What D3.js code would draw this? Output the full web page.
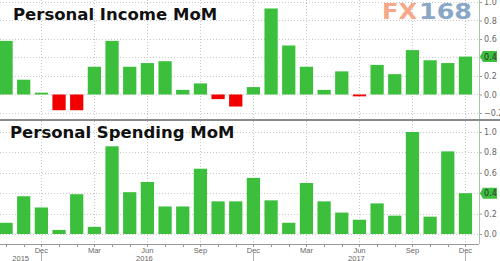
<!DOCTYPE html>
<html>
<head>
<meta charset="utf-8">
<script src="https://cdn.jsdelivr.net/npm/d3@7"></script>
<style>
  body { margin: 0; background: #fff; }
  svg { display: block; }
</style>
</head>
<body>
<div id="chart"></div>
<script>
// Personal Income / Personal Spending MoM, two stacked panels

const width = 500;
const height = 261;
const axisX = 479; // right axis position

// months Oct 2015 .. Dec 2017
const months = [
  "2015-10", "2015-11", "2015-12",
  "2016-01", "2016-02", "2016-03", "2016-04", "2016-05", "2016-06",
  "2016-07", "2016-08", "2016-09", "2016-10", "2016-11", "2016-12",
  "2017-01", "2017-02", "2017-03", "2017-04", "2017-05", "2017-06",
  "2017-07", "2017-08", "2017-09", "2017-10", "2017-11", "2017-12"
];

const incomeMoM = [
  0.58, 0.16, 0.02, -0.17, -0.17, 0.30, 0.58, 0.30, 0.34, 0.36, 0.05, 0.12, -0.05, -0.13,
  0.08, 0.93, 0.53, 0.30, 0.05, 0.25, -0.02, 0.32, 0.22, 0.48, 0.37, 0.34, 0.41
];

const spendingMoM = [
  0.11, 0.37, 0.26, 0.04, 0.39, 0.07, 0.86, 0.41, 0.51, 0.27, 0.27, 0.64, 0.32, 0.32,
  0.55, 0.33, 0.11, 0.50, 0.32, 0.21, 0.14, 0.30, 0.18, 1.00, 0.17, 0.81, 0.40
];

// tick labels
const quarterTicks = ["2015-12", "2016-03", "2016-06", "2016-09", "2016-12", "2017-03", "2017-06", "2017-09", "2017-12"];
const quarterLabels = ["Dec", "Mar", "Jun", "Sep", "Dec", "Mar", "Jun", "Sep", "Dec"];
const years = ["2015", "2016", "2017"];
const yearLabelMonths = ["2015-11", "2016-06", "2017-06"];
const yearBreaks = ["2015-12", "2016-12", "2017-12"];
const topTicks = [-0.2, 0.0, 0.2, 0.4, 0.6, 0.8, 1.0];
const bottomTicks = [0.0, 0.2, 0.4, 0.6, 0.8, 1.0];

const green = "#3cbf3c";
const red = "#f20000";
const gridColor = "#c8c8c8";
const labelColor = "#666";

const svg = d3.select("#chart")
  .append("svg")
  .attr("width", width)
  .attr("height", height)
  .attr("viewBox", [0, 0, width, height]);

// shared x scale
const x = d3.scaleBand()
  .domain(months)
  .range([-2.8, 474.3])
  .paddingInner(0.25)
  .paddingOuter(0.125);
const xc = (m) => x(m) + x.bandwidth() / 2;

// one y scale for each panel
const yTop = d3.scaleLinear().domain([-0.2, 1.0]).range([113, 2]);
const yBot = d3.scaleLinear().domain([0, 1.0]).range([234, 132]);

const panels = [
  { title: "Personal Income MoM", values: incomeMoM, y: yTop, ticks: topTicks, top: 0, bottom: 119, titleX: 13, titleY: 19.5 },
  { title: "Personal Spending MoM", values: spendingMoM, y: yBot, ticks: bottomTicks, top: 121, bottom: 244, titleX: 10, titleY: 138 }
];

panels.forEach((p) => {
  const g = svg.append("g");

  // horizontal grid
  g.selectAll(".hgrid")
    .data(p.ticks)
    .enter()
    .append("line")
    .attr("x1", 0)
    .attr("x2", axisX)
    .attr("y1", (d) => Math.round(p.y(d)) + 0.5)
    .attr("y2", (d) => Math.round(p.y(d)) + 0.5)
    .attr("stroke", gridColor)
    .attr("stroke-dasharray", "1,2");

  // vertical grid at quarter months
  g.selectAll(".vgrid")
    .data(quarterTicks)
    .enter()
    .append("line")
    .attr("x1", (d) => Math.round(xc(d)) + 0.5)
    .attr("x2", (d) => Math.round(xc(d)) + 0.5)
    .attr("y1", p.top)
    .attr("y2", p.bottom)
    .attr("stroke", gridColor)
    .attr("stroke-dasharray", "1,2");

  // bars
  g.selectAll(".bar")
    .data(p.values)
    .enter()
    .append("rect")
    .attr("class", "bar")
    .attr("x", (d, i) => x(months[i]))
    .attr("y", (d) => p.y(Math.max(0, d)))
    .attr("width", x.bandwidth())
    .attr("height", (d) => Math.max(1.5, Math.abs(p.y(d) - p.y(0))))
    .attr("fill", (d) => d < 0 ? red : green);

  // right axis
  const ax = g.append("g")
    .attr("transform", `translate(${axisX},0)`)
    .call(d3.axisRight(p.y)
      .tickValues(p.ticks)
      .tickSize(3)
      .tickPadding(2)
      .tickFormat(d3.format(".1f")));
  ax.select(".domain").remove();
  ax.selectAll(".tick line").attr("stroke", "#9a9a9a");
  ax.selectAll(".tick text")
    .attr("fill", labelColor)
    .attr("font-family", "DejaVu Sans")
    .attr("font-size", "8px");
  g.append("line")
    .attr("x1", axisX + 0.5).attr("x2", axisX + 0.5)
    .attr("y1", p.top).attr("y2", p.bottom)
    .attr("stroke", "#a8c8a8");

  // last value tag
  const last = p.values[p.values.length - 1];
  const ty = p.y(last);
  g.append("path")
    .attr("d", `M${axisX + 1},${ty} L${axisX + 4},${ty - 5.5} L${axisX + 18},${ty - 5.5} L${axisX + 18},${ty + 5.5} L${axisX + 4},${ty + 5.5} Z`)
    .attr("fill", green);
  g.append("text")
    .attr("x", axisX + 5)
    .attr("y", ty + 3)
    .attr("fill", "#333")
    .attr("font-family", "DejaVu Sans")
    .attr("font-size", "8px")
    .text(d3.format(".1f")(last));

  // title
  g.append("text")
    .attr("x", p.titleX)
    .attr("y", p.titleY)
    .attr("font-family", "DejaVu Sans")
    .attr("font-weight", "bold")
    .attr("font-size", "16.5px")
    .attr("fill", "#111")
    .text(p.title);
});

// divider between the panels
svg.append("line")
  .attr("x1", 0).attr("x2", width)
  .attr("y1", 120).attr("y2", 120)
  .attr("stroke", "#8a8a8a")
  .attr("stroke-width", 2);

// bottom time axis
const xa = svg.append("g");
xa.append("line")
  .attr("x1", 0).attr("x2", axisX)
  .attr("y1", 244.5).attr("y2", 244.5)
  .attr("stroke", "#9a9a9a");
xa.selectAll(".mtick")
  .data(months)
  .enter()
  .append("line")
  .attr("x1", (d) => Math.round(xc(d)) + 0.5)
  .attr("x2", (d) => Math.round(xc(d)) + 0.5)
  .attr("y1", 244)
  .attr("y2", 247)
  .attr("stroke", "#9a9a9a");
xa.selectAll(".ybreak")
  .data(yearBreaks)
  .enter()
  .append("line")
  .attr("x1", (d) => Math.round(xc(d)) + 0.5)
  .attr("x2", (d) => Math.round(xc(d)) + 0.5)
  .attr("y1", 253)
  .attr("y2", height)
  .attr("stroke", "#b0b0b0");
xa.selectAll(".qlabel")
  .data(quarterTicks)
  .enter()
  .append("text")
  .attr("x", (d) => xc(d))
  .attr("y", 253)
  .attr("text-anchor", "middle")
  .attr("font-family", "Liberation Sans")
  .attr("font-size", "7.5px")
  .attr("fill", labelColor)
  .text((d, i) => quarterLabels[i]);
xa.selectAll(".ylabel")
  .data(years)
  .enter()
  .append("text")
  .attr("x", (d, i) => xc(yearLabelMonths[i]) - 3)
  .attr("y", 260.5)
  .attr("text-anchor", "middle")
  .attr("font-family", "Liberation Sans")
  .attr("font-size", "7.5px")
  .attr("fill", labelColor)
  .text((d) => d);

// FX168 watermark
svg.append("text")
  .attr("x", 382)
  .attr("y", 19)
  .attr("font-family", "DejaVu Sans")
  .attr("font-weight", "bold")
  .attr("font-size", "22px")
  .attr("textLength", 35)
  .attr("lengthAdjust", "spacingAndGlyphs")
  .attr("fill", "#f4a07c")
  .attr("opacity", 0.9)
  .text("FX");
svg.append("text")
  .attr("x", 419)
  .attr("y", 19)
  .attr("font-family", "DejaVu Sans")
  .attr("font-weight", "bold")
  .attr("font-size", "22px")
  .attr("textLength", 53)
  .attr("lengthAdjust", "spacingAndGlyphs")
  .attr("fill", "#7d9ec0")
  .attr("opacity", 0.9)
  .text("168");
</script>
</body>
</html>
